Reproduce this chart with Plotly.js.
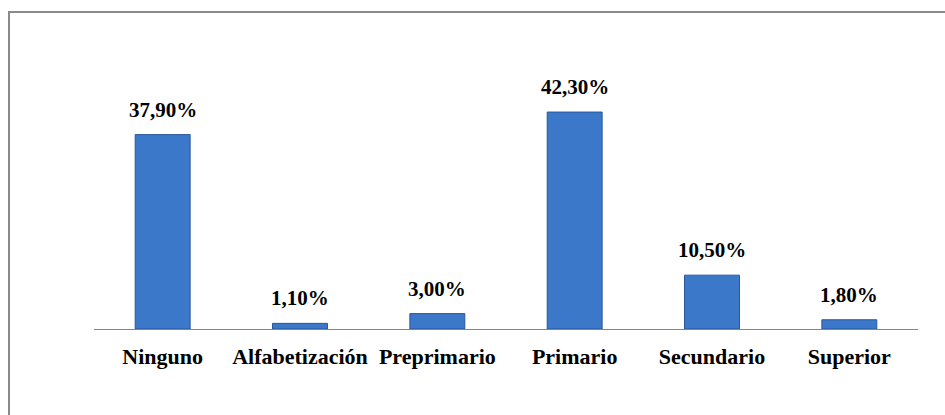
<!DOCTYPE html>
<html>
<head>
<meta charset="utf-8">
<script src="https://cdn.plot.ly/plotly-3.0.1.min.js"></script>
</head>
<body style="margin:0">
<div id="chart"></div>
<script>
const categories = ["Ninguno", "Alfabetización", "Preprimario", "Primario", "Secundario", "Superior"];
const values = [37.9, 1.1, 3.0, 42.3, 10.5, 1.8];
const valueLabels = ["37,90%", "1,10%", "3,00%", "42,30%", "10,50%", "1,80%"];

const serif = "Times New Roman";

const trace = {
  type: "bar",
  x: categories,
  y: values,
  marker: {color: "#3B78C9", line: {color: "#28579A", width: 1}},
  hoverinfo: "skip"
};

const annotations = categories.map((c, i) => ({
  x: c, y: values[i], xref: "x", yref: "y",
  text: "<b>" + valueLabels[i] + "</b>",
  showarrow: false, yanchor: "bottom", yshift: 11,
  font: {family: serif, size: 21, color: "#000"}
}));

// plot area: x 94..918, y 50..329 (pixels)
const L = 94, R = 27, T = 50, B = 86, W = 945, H = 415;
const pw = W - L - R, ph = H - T - B;
const px = v => (v - L) / pw;
const py = v => (H - B - v) / ph;

const layout = {
  width: W, height: H,
  margin: {l: L, r: R, t: T, b: B},
  paper_bgcolor: "#fff", plot_bgcolor: "#fff",
  bargap: 0.6,
  showlegend: false,
  xaxis: {
    type: "category",
    showline: true, linecolor: "#868686", linewidth: 1,
    ticks: "", showgrid: false, zeroline: false,
    tickfont: {family: serif, size: 22, color: "#000"},
    ticklabelstandoff: 8
  },
  yaxis: {
    range: [0, 54.4], visible: false, showgrid: false, zeroline: false
  },
  shapes: [
    {type: "line", xref: "paper", yref: "paper",
     x0: px(9), x1: px(9), y0: py(12), y1: py(420),
     line: {color: "#8a8a8a", width: 2}},
    {type: "line", xref: "paper", yref: "paper",
     x0: px(8), x1: px(950), y0: py(12), y1: py(12),
     line: {color: "#8a8a8a", width: 2}}
  ],
  annotations: annotations
};

Plotly.newPlot("chart", [trace], layout, {displayModeBar: false}).then(() => {
  document.querySelectorAll(".xtick text").forEach(t => { t.style.fontWeight = "bold"; });
});
</script>
</body>
</html>
